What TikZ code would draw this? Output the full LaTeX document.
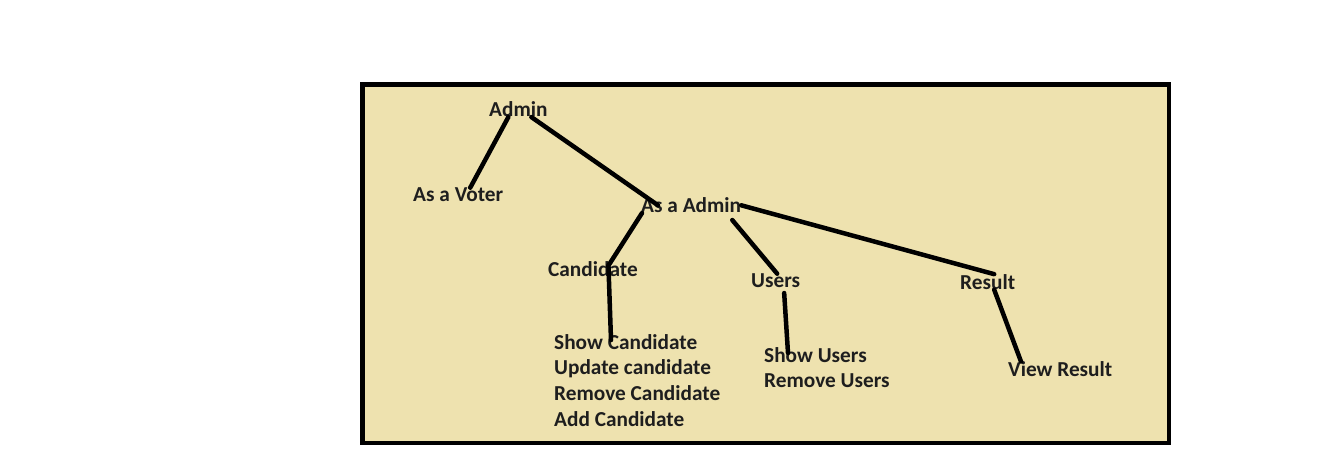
\documentclass[tikz,border=0pt]{standalone}
\usepackage{fontspec}
\setmainfont{Carlito}
\usetikzlibrary{positioning}
\definecolor{panel}{RGB}{238,226,175}
\definecolor{ink}{RGB}{30,30,30}

\begin{document}
\begin{tikzpicture}[x=1pt,y=-1pt,
  item/.style={font=\fontsize{21.3}{25.6}\selectfont\bfseries, text=ink, inner sep=0pt, anchor=base west},
  list/.style={item, align=left},
  link/.style={line width=4.5pt, black, line cap=round}
]
\useasboundingbox (0,0) rectangle (1319,460);
\draw[line width=4.5pt, fill=panel] (362.5,84.5) rectangle (1169,443);

\node[item] (admin) at (489,116.7) {Admin};
\node[item] (voter) at (413,201.7) {As a Voter};
\node[item] (asadmin) at (641,212.7) {As a Admin};
\node[item] (cand) at (548,276.7) {Candidate};
\node[item] (users) at (751,287.7) {Users};
\node[item] (result) at (960,289.3) {Result};
% lists: anchor is the baseline of the last line
\node[list] (candlist) at (554,426) {Show Candidate\\Update candidate\\Remove Candidate\\Add Candidate};
\node[list] (userlist) at (764,387.7) {Show Users\\Remove Users};
\node[item] (view) at (1008,376.7) {View Result};

\draw[link] ([xshift=-10]admin.south) -- ([xshift=12]voter.north);
\draw[link] ([xshift=13]admin.south) -- ([xshift=17]asadmin.west);
\draw[link] ([xshift=1]asadmin.south west) -- ([xshift=15.5,yshift=-4]cand.north);
\draw[link] ([xshift=15.5,yshift=-4]cand.north) -- ([xshift=57,yshift=-6]candlist.north west);
\draw[link] ([xshift=-9,yshift=-7]asadmin.south east) -- ([xshift=1.5]users.north);
\draw[link] ([xshift=8.5,yshift=-5]users.south) -- ([xshift=24,yshift=-6]userlist.north west);
\draw[link] (asadmin.east) -- ([xshift=6.5]result.north);
\draw[link] ([xshift=6.5]result.south) -- ([xshift=13]view.north west);
\end{tikzpicture}
\end{document}
